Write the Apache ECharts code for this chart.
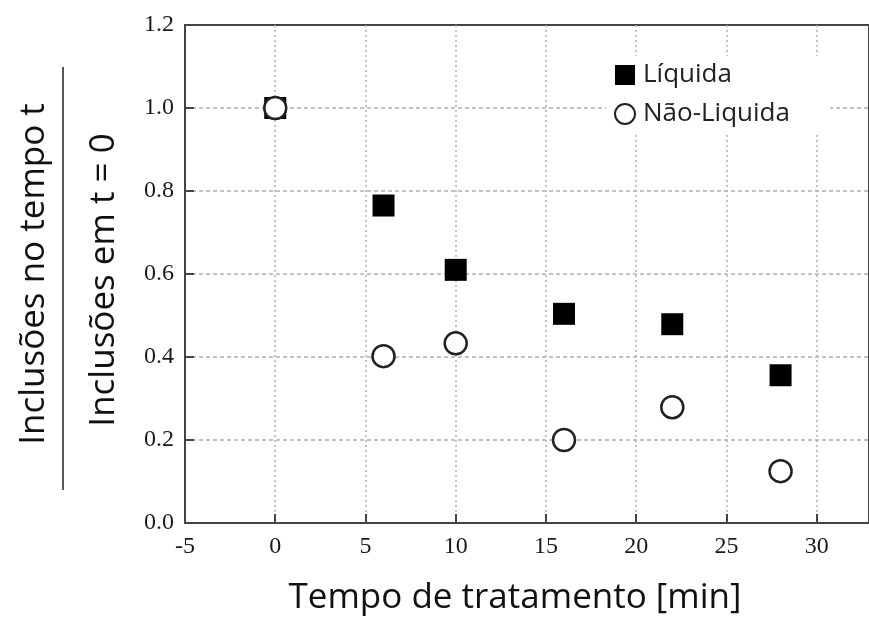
<!DOCTYPE html>
<html>
<head>
<meta charset="utf-8">
<script src="https://cdn.jsdelivr.net/npm/echarts@6/dist/echarts.min.js"></script>
<style>
  html, body { margin: 0; padding: 0; background: #fff; }
  #chart { width: 869px; height: 619px; }
</style>
</head>
<body>
<div id="chart"></div>
<script>
// Treatment time (min) and relative inclusion counts
const liquidaTime = [0, 6, 10, 16, 22, 28];
const liquidaRatio = [1.0, 0.765, 0.61, 0.504, 0.479, 0.356];
const naoLiquidaTime = [0, 6, 10, 16, 22, 28];
const naoLiquidaRatio = [1.0, 0.402, 0.433, 0.20, 0.279, 0.125];

const seriesNames = ['Líquida', 'Não-Liquida'];
const xTitle = 'Tempo de tratamento [min]';
const yTitleTop = 'Inclusões no tempo t';
const yTitleBottom = 'Inclusões em t = 0';

const pairs = (xs, ys) => xs.map((x, i) => [x, ys[i]]);

const tickFont = {
  fontFamily: 'Liberation Serif',
  fontSize: 24,
  color: '#1a1a1a'
};
const sansFont = 'Open Sans';

const chart = echarts.init(document.getElementById('chart'), null, { renderer: 'canvas' });

chart.setOption({
  backgroundColor: '#fff',
  animation: false,
  grid: {
    left: 185, top: 25, right: -3, bottom: 96,
    show: true, borderColor: '#444', borderWidth: 2,
    backgroundColor: 'transparent'
  },
  legend: {
    orient: 'vertical',
    left: 606, top: 56,
    padding: [6, 40, 8, 8],
    backgroundColor: '#fff',
    itemWidth: 20, itemHeight: 20,
    itemGap: 13,
    textStyle: { fontFamily: sansFont, fontSize: 26, color: '#222', padding: [0, 0, 0, 3] },
    data: [
      { name: seriesNames[0], icon: 'rect' },
      { name: seriesNames[1], icon: 'circle' }
    ]
  },
  xAxis: {
    type: 'value',
    min: -5, max: 32.9, interval: 5,
    axisLine: { show: true, onZero: false, lineStyle: { color: '#444', width: 2 } },
    axisTick: { show: true, inside: true, length: 9, lineStyle: { color: '#444', width: 2 } },
    axisLabel: { ...tickFont, margin: 12, showMaxLabel: false },
    splitLine: { show: true, showMinLine: false, showMaxLine: false, lineStyle: { color: '#b0b0b0', width: 1.5, type: [2, 3] } }
  },
  yAxis: {
    type: 'value',
    min: 0, max: 1.2, interval: 0.2,
    axisLine: { show: true, onZero: false, lineStyle: { color: '#444', width: 2 } },
    axisTick: { show: true, inside: true, length: 9, lineStyle: { color: '#444', width: 2 } },
    axisLabel: { ...tickFont, margin: 11, formatter: v => v.toFixed(1) },
    splitLine: { show: true, showMinLine: false, showMaxLine: false, lineStyle: { color: '#b0b0b0', width: 1.5, type: [4, 3] } }
  },
  series: [
    {
      name: seriesNames[0],
      type: 'scatter',
      symbol: 'rect',
      symbolSize: 22,
      itemStyle: { color: '#000', opacity: 1 },
      data: pairs(liquidaTime, liquidaRatio),
      z: 3
    },
    {
      name: seriesNames[1],
      type: 'scatter',
      symbol: 'circle',
      symbolSize: 22,
      itemStyle: { color: '#fff', borderColor: '#222', borderWidth: 2.5, opacity: 1 },
      data: pairs(naoLiquidaTime, naoLiquidaRatio),
      z: 4
    }
  ],
  graphic: [
    {
      type: 'text',
      x: 515, y: 598,
      style: {
        text: xTitle,
        align: 'center', verticalAlign: 'middle',
        fontFamily: sansFont, fontSize: 35, fill: '#111'
      }
    },
    {
      type: 'text',
      x: 34, y: 274,
      rotation: Math.PI / 2,
      style: {
        text: yTitleTop,
        align: 'center', verticalAlign: 'middle',
        fontFamily: sansFont, fontSize: 35, fill: '#111'
      }
    },
    {
      type: 'line',
      shape: { x1: 63, y1: 67, x2: 63, y2: 490 },
      style: { stroke: '#222', lineWidth: 1.5 }
    },
    {
      type: 'text',
      x: 104, y: 280,
      rotation: Math.PI / 2,
      style: {
        text: yTitleBottom,
        align: 'center', verticalAlign: 'middle',
        fontFamily: sansFont, fontSize: 35, fill: '#111'
      }
    }
  ]
});
</script>
</body>
</html>
